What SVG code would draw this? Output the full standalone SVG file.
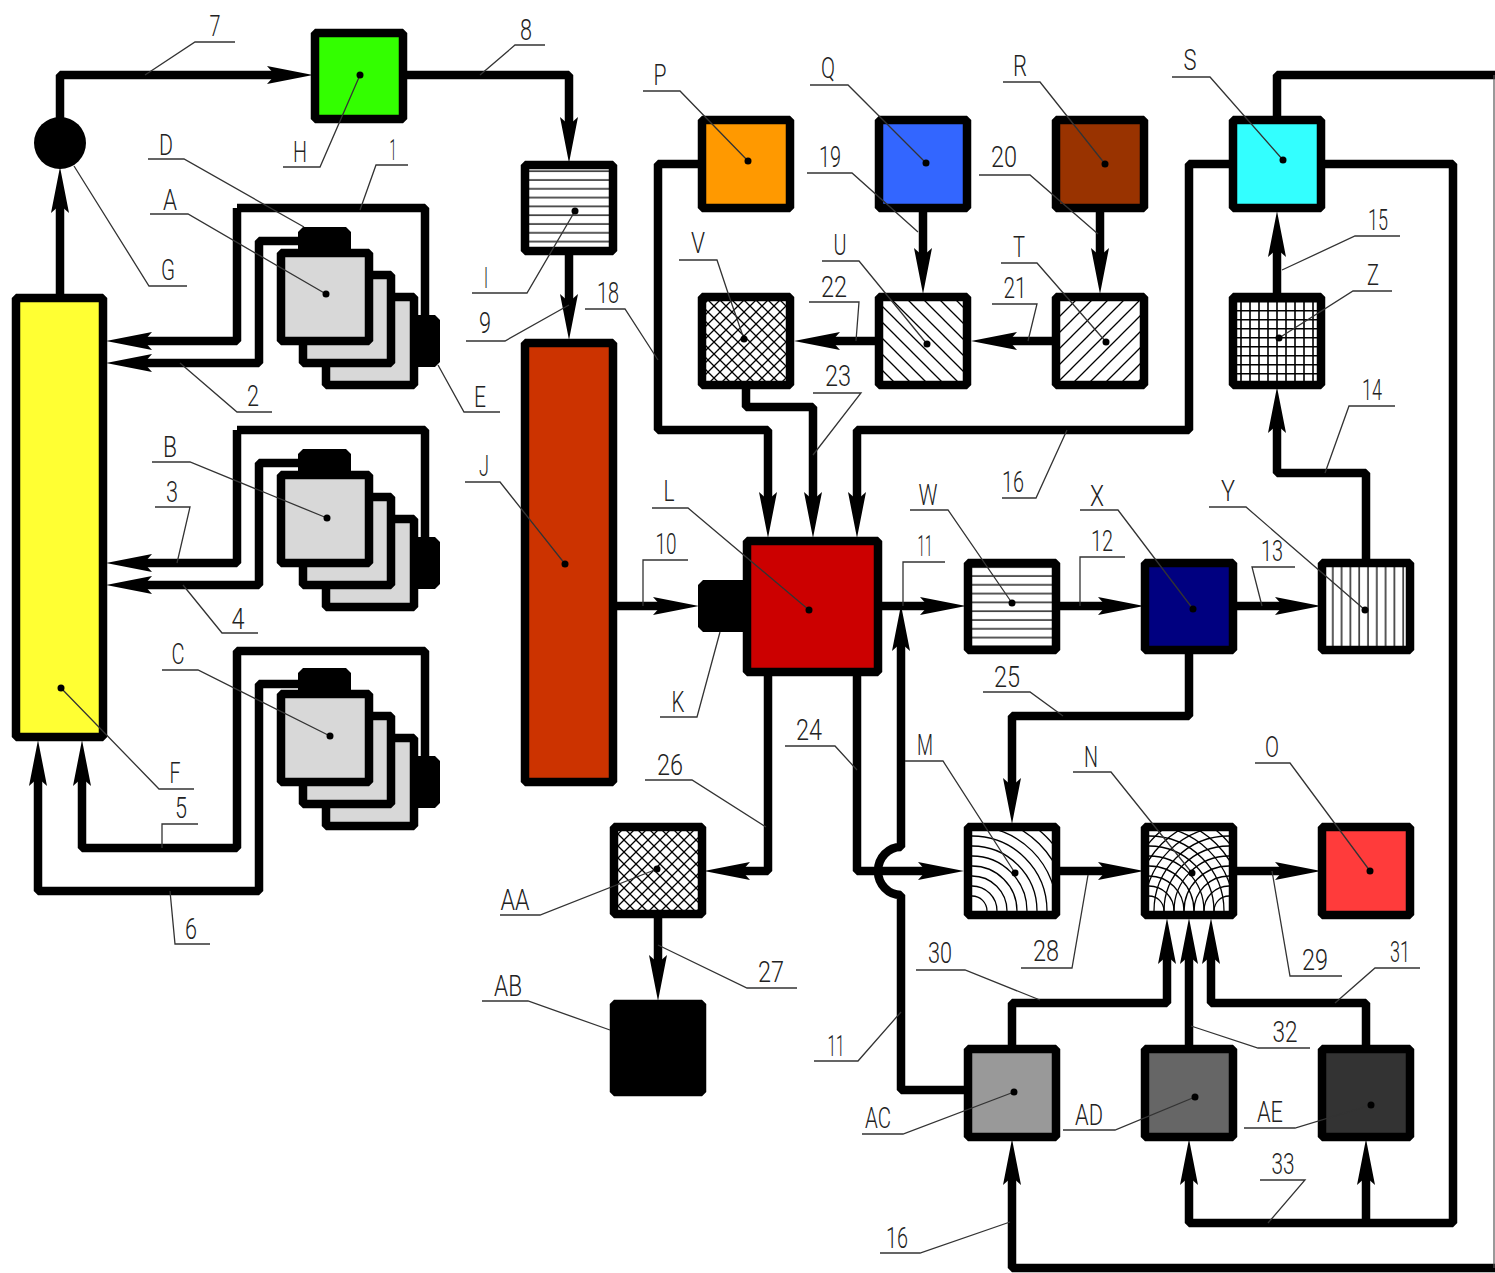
<svg xmlns="http://www.w3.org/2000/svg" width="1495" height="1273" viewBox="0 0 1495 1273">
<style>
.c{fill:none;stroke:#000;stroke-width:8.5;stroke-linejoin:bevel}
.a{marker-end:url(#ah)}
.b{stroke:#000;stroke-width:8.5;stroke-linejoin:bevel}
.l{fill:none;stroke:#333;stroke-width:1.3}
.d{fill:#000}
.h{fill:none;stroke:#000;stroke-width:1.3}
text{font-family:"Roboto","Liberation Sans",sans-serif;font-weight:300;font-size:30px;fill:#222;text-anchor:middle;dominant-baseline:central}
</style>
<defs>
<marker id="ah" markerUnits="userSpaceOnUse" markerWidth="46" markerHeight="18" viewBox="0 0 46 18" refX="15" refY="9" orient="auto"><polygon points="0,0 46,9 0,18 8,9" fill="#000"/></marker>
<pattern id="ph" patternUnits="userSpaceOnUse" width="10" height="8.8"><rect width="10" height="8.8" fill="#fff"/><path d="M0 4H10" stroke="#000" stroke-width="1.3"/></pattern>
<pattern id="pv" patternUnits="userSpaceOnUse" width="8.8" height="10"><rect width="8.8" height="10" fill="#fff"/><path d="M4 0V10" stroke="#000" stroke-width="1.3"/></pattern>
<pattern id="pg" patternUnits="userSpaceOnUse" width="9" height="9"><rect width="9" height="9" fill="#fff"/><path d="M8 0V9M0 4.7H9" stroke="#000" stroke-width="1.6"/></pattern>
<pattern id="pu" patternUnits="userSpaceOnUse" width="16" height="16"><rect width="16" height="16" fill="#fff"/><path d="M-4 4L4 -4M0 16L16 0M12 20L20 12" stroke="#000" stroke-width="1.3"/></pattern>
<pattern id="pd" patternUnits="userSpaceOnUse" width="16" height="16"><rect width="16" height="16" fill="#fff"/><path d="M-4 12L4 20M0 0L16 16M12 -4L20 4" stroke="#000" stroke-width="1.3"/></pattern>
<pattern id="px" patternUnits="userSpaceOnUse" width="12" height="12"><rect width="12" height="12" fill="#fff"/><path d="M0 0L12 12M0 12L12 0" stroke="#000" stroke-width="1.3"/></pattern>
<g id="arcs"><circle r="15"/><circle r="25"/><circle r="35"/><circle r="45"/><circle r="55"/><circle r="65"/><circle r="75"/><circle r="85"/><circle r="95"/><circle r="105"/></g>
<clipPath id="cm"><rect x="972" y="831" width="80" height="80"/></clipPath>
<clipPath id="cn"><rect x="1149" y="831" width="80" height="80"/></clipPath>
<g id="cyl">
<rect x="326" y="297" width="88" height="88" fill="#d8d8d8" class="b"/>
<rect x="303" y="275" width="88" height="88" fill="#d8d8d8" class="b"/>
<rect x="281" y="253" width="88" height="88" fill="#d8d8d8" class="b"/>
<polygon points="303,227 346,227 351,232 351,250 298,250 298,232"/>
<polygon points="415,315 435,315 440,320 440,362 435,367 415,367"/>
</g>
</defs>

<g id="connectors">
<path class="c a" d="M60 120V75H282"/>
<path class="c a" d="M60 294V198"/>
<path class="c a" d="M405 75H569V132"/>
<path class="c a" d="M569 254V309"/>
<path class="c a" d="M237 208V341H137"/>
<path class="c" d="M237 208H425V320"/>
<path class="c a" d="M300 241H259V363H137"/>
<path class="c a" d="M237 430V563H137"/>
<path class="c" d="M237 430H425V542"/>
<path class="c a" d="M300 463H259V585H137"/>
<path class="c a" d="M425 762V651H237V848H82V771"/>
<path class="c a" d="M300 684H259V891H38V771"/>
<path class="c a" d="M616 606H668"/>
<path class="c a" d="M882 606H935"/>
<path class="c a" d="M1059 606H1113"/>
<path class="c a" d="M1236 606H1290"/>
<path class="c a" d="M1366 560V473H1277V418"/>
<path class="c a" d="M1277 293V242"/>
<path class="c" d="M1277 117V75H1495"/>
<path class="c a" d="M1325 164H1453V1223H1189V1170"/>
<path class="c a" d="M1366 1223V1170"/>
<path class="c a" d="M1230 164H1189V430H857V507"/>
<path class="c a" d="M698 164H658V430H768V507"/>
<path class="c a" d="M746 389V407H813V507"/>
<path class="c a" d="M923 212V263"/>
<path class="c a" d="M1100 212V263"/>
<path class="c a" d="M1052 341H1002"/>
<path class="c a" d="M875 341H825"/>
<path class="c a" d="M768 675V871H735"/>
<path class="c a" d="M658 917V970"/>
<path class="c a" d="M857 675V871H933"/>
<path class="c a" d="M965 1090H901V895A23 24 0 0 1 901 847V636"/>
<path class="c a" d="M1189 653V716H1012V793"/>
<path class="c a" d="M1060 871H1113"/>
<path class="c a" d="M1237 871H1290"/>
<path class="c a" d="M1012 1046V1003H1167V949"/>
<path class="c a" d="M1189 1046V949"/>
<path class="c a" d="M1366 1046V1003H1211V949"/>
<path class="c a" d="M1495 1268H1012V1170"/>
<path d="M1494 75V1268" fill="none" stroke="#555" stroke-width="1.2"/>
</g>

<g id="node-F"><rect x="16" y="298" width="87" height="439" fill="#ffff33" class="b"/></g>
<g id="node-G"><circle cx="60" cy="143" r="26"/></g>
<g id="node-H"><rect x="315" y="33" width="88" height="86" fill="#33ff00" class="b"/></g>
<g id="node-I"><rect x="525" y="165" width="88" height="86" fill="url(#ph)" class="b"/></g>
<g id="node-J"><rect x="525" y="343" width="88" height="439" fill="#cc3300" class="b"/></g>
<g id="node-A"><use href="#cyl"/></g>
<g id="node-B"><use href="#cyl" y="222"/></g>
<g id="node-C"><use href="#cyl" y="441"/></g>
<g id="node-K"><polygon points="703,580 745,580 745,632 703,632 698,627 698,585"/></g>
<g id="node-L"><rect x="747" y="541" width="131" height="131" fill="#cc0000" class="b"/></g>
<g id="node-P"><rect x="702" y="120" width="88" height="88" fill="#ff9900" class="b"/></g>
<g id="node-Q"><rect x="879" y="120" width="88" height="88" fill="#3366ff" class="b"/></g>
<g id="node-R"><rect x="1056" y="120" width="88" height="88" fill="#993300" class="b"/></g>
<g id="node-S"><rect x="1233" y="120" width="88" height="88" fill="#33ffff" class="b"/></g>
<g id="node-V"><rect x="702" y="297" width="88" height="88" fill="url(#px)" class="b"/></g>
<g id="node-U"><rect x="879" y="297" width="88" height="88" fill="url(#pd)" class="b"/></g>
<g id="node-T"><rect x="1056" y="297" width="88" height="88" fill="url(#pu)" class="b"/></g>
<g id="node-Z"><rect x="1233" y="297" width="88" height="88" fill="url(#pg)" class="b"/></g>
<g id="node-W"><rect x="968" y="563" width="88" height="87" fill="url(#ph)" class="b"/></g>
<g id="node-X"><rect x="1145" y="563" width="88" height="87" fill="#000080" class="b"/></g>
<g id="node-Y"><rect x="1322" y="563" width="88" height="87" fill="url(#pv)" class="b"/></g>
<g id="node-M"><rect x="968" y="827" width="88" height="88" fill="#fff" class="b"/><g clip-path="url(#cm)"><use href="#arcs" x="972" y="911" class="h"/></g></g>
<g id="node-N"><rect x="1145" y="827" width="88" height="88" fill="#fff" class="b"/><g clip-path="url(#cn)"><use href="#arcs" x="1149" y="911" class="h"/><use href="#arcs" x="1229" y="911" class="h"/></g></g>
<g id="node-O"><rect x="1322" y="827" width="88" height="88" fill="#ff3b3b" class="b"/></g>
<g id="node-AA"><rect x="614" y="827" width="88" height="87" fill="url(#px)" class="b"/></g>
<g id="node-AB"><rect x="614" y="1004" width="88" height="88" fill="#000" class="b"/></g>
<g id="node-AC"><rect x="968" y="1049" width="88" height="88" fill="#999999" class="b"/></g>
<g id="node-AD"><rect x="1145" y="1049" width="88" height="88" fill="#666666" class="b"/></g>
<g id="node-AE"><rect x="1322" y="1049" width="88" height="88" fill="#333333" class="b"/></g>

<g id="leaders" class="l">
<path d="M145 75L195 42H235"/><path d="M480 75L515 45H545"/><path d="M283 167H320L360 75"/>
<path d="M148 159H184L304 227"/><path d="M408 165H376L360 210"/><path d="M150 214H188L326 294"/>
<path d="M187 286H149L74 166"/><path d="M472 293H527L575 211"/><path d="M466 341H505L569 305"/>
<path d="M585 309H625L658 360"/><path d="M643 91H680L748 161"/><path d="M810 85H848L926 163"/>
<path d="M1003 82H1040L1105 164"/><path d="M1172 77H1210L1283 160"/><path d="M807 173H852L918 232"/>
<path d="M979 175H1030L1098 234"/><path d="M679 260H717L728 293L744 339"/><path d="M822 261H859L927 344"/>
<path d="M1001 263H1037L1106 342"/><path d="M809 302H859L856 341"/><path d="M992 304H1037L1028 341"/>
<path d="M813 393H861L813 455"/><path d="M1400 236H1355L1282 270"/><path d="M1392 291H1353L1279 338"/>
<path d="M1395 406H1349L1325 473"/><path d="M1002 498H1036L1067 430"/><path d="M465 482H500L565 564"/>
<path d="M688 560H643V606"/><path d="M652 508H688L809 610"/><path d="M945 562H903V606"/>
<path d="M910 510H948L1012 603"/><path d="M1125 557H1080V606"/><path d="M1080 510H1118L1193 609"/>
<path d="M1295 567H1252L1262 606"/><path d="M1209 507H1246L1365 610"/><path d="M152 462H190L327 518"/>
<path d="M155 507H190L177 563"/><path d="M258 633H222L183 585"/><path d="M272 412H237L180 363"/>
<path d="M500 412H464L438 365"/><path d="M660 717H697L720 632"/><path d="M162 670H198L330 736"/>
<path d="M198 824H162V848"/><path d="M194 789H159L61 688"/><path d="M210 944H175L170 891"/>
<path d="M983 692H1030L1063 716"/><path d="M785 746H835L857 770"/><path d="M645 780H692L766 827"/>
<path d="M905 761H943L1015 873"/><path d="M1073 772H1111L1192 873"/><path d="M1255 763H1290L1370 871"/>
<path d="M500 915H540L657 869"/><path d="M797 988H747L658 945"/><path d="M482 1001H528L610 1030"/>
<path d="M1021 968H1072L1088 875"/><path d="M1342 976H1290L1272 871"/><path d="M916 970H965L1040 1000"/>
<path d="M1420 968H1375L1335 1003"/><path d="M1310 1048H1258L1191 1026"/><path d="M814 1061H858L901 1012"/>
<path d="M1260 1180H1305L1268 1223"/><path d="M880 1253H920L1010 1222"/><path d="M862 1134H903L1014 1092"/>
<path d="M1063 1130H1115L1195 1097"/><path d="M1244 1128H1295L1371 1105"/>
</g>
<g id="dots" class="d">
<circle cx="360" cy="75" r="3.5"/><circle cx="326" cy="294" r="3.5"/><circle cx="575" cy="211" r="3.5"/>
<circle cx="748" cy="161" r="3.5"/><circle cx="926" cy="163" r="3.5"/><circle cx="1105" cy="164" r="3.5"/><circle cx="1283" cy="160" r="3.5"/>
<circle cx="744" cy="339" r="3.5"/><circle cx="927" cy="344" r="3.5"/><circle cx="1106" cy="342" r="3.5"/><circle cx="1279" cy="338" r="3.5"/>
<circle cx="565" cy="564" r="3.5"/><circle cx="809" cy="610" r="3.5"/><circle cx="1012" cy="603" r="3.5"/><circle cx="1193" cy="609" r="3.5"/><circle cx="1365" cy="610" r="3.5"/>
<circle cx="327" cy="518" r="3.5"/><circle cx="330" cy="736" r="3.5"/><circle cx="61" cy="688" r="3.5"/>
<circle cx="1015" cy="873" r="3.5"/><circle cx="1192" cy="873" r="3.5"/><circle cx="1370" cy="871" r="3.5"/><circle cx="657" cy="869" r="3.5"/>
<circle cx="1014" cy="1092" r="3.5"/><circle cx="1195" cy="1097" r="3.5"/><circle cx="1371" cy="1105" r="3.5"/>
</g>

<g id="labels">
<text x="215" y="25" textLength="11" lengthAdjust="spacingAndGlyphs">7</text>
<text x="526" y="29" textLength="12" lengthAdjust="spacingAndGlyphs">8</text>
<text x="300" y="151" textLength="14" lengthAdjust="spacingAndGlyphs">H</text>
<text x="166" y="144" textLength="14" lengthAdjust="spacingAndGlyphs">D</text>
<text x="393" y="149" textLength="7" lengthAdjust="spacingAndGlyphs">1</text>
<text x="170" y="199" textLength="14" lengthAdjust="spacingAndGlyphs">A</text>
<text x="168" y="269" textLength="14" lengthAdjust="spacingAndGlyphs">G</text>
<text x="486" y="277" textLength="4" lengthAdjust="spacingAndGlyphs">I</text>
<text x="485" y="322" textLength="12" lengthAdjust="spacingAndGlyphs">9</text>
<text x="608" y="292" textLength="22" lengthAdjust="spacingAndGlyphs">18</text>
<text x="660" y="74" textLength="13" lengthAdjust="spacingAndGlyphs">P</text>
<text x="828" y="67" textLength="14" lengthAdjust="spacingAndGlyphs">Q</text>
<text x="1020" y="65" textLength="14" lengthAdjust="spacingAndGlyphs">R</text>
<text x="1190" y="59" textLength="13" lengthAdjust="spacingAndGlyphs">S</text>
<text x="830" y="156" textLength="22" lengthAdjust="spacingAndGlyphs">19</text>
<text x="1004" y="156" textLength="26" lengthAdjust="spacingAndGlyphs">20</text>
<text x="698" y="242" textLength="14" lengthAdjust="spacingAndGlyphs">V</text>
<text x="840" y="244" textLength="13" lengthAdjust="spacingAndGlyphs">U</text>
<text x="1019" y="246" textLength="12" lengthAdjust="spacingAndGlyphs">T</text>
<text x="834" y="286" textLength="26" lengthAdjust="spacingAndGlyphs">22</text>
<text x="1015" y="287" textLength="23" lengthAdjust="spacingAndGlyphs">21</text>
<text x="838" y="375" textLength="26" lengthAdjust="spacingAndGlyphs">23</text>
<text x="1378" y="219" textLength="20" lengthAdjust="spacingAndGlyphs">15</text>
<text x="1373" y="274" textLength="12" lengthAdjust="spacingAndGlyphs">Z</text>
<text x="1372" y="389" textLength="20" lengthAdjust="spacingAndGlyphs">14</text>
<text x="1013" y="481" textLength="22" lengthAdjust="spacingAndGlyphs">16</text>
<text x="484" y="465" textLength="10" lengthAdjust="spacingAndGlyphs">J</text>
<text x="666" y="543" textLength="21" lengthAdjust="spacingAndGlyphs">10</text>
<text x="669" y="490" textLength="11" lengthAdjust="spacingAndGlyphs">L</text>
<text x="925" y="545" textLength="15" lengthAdjust="spacingAndGlyphs">11</text>
<text x="928" y="494" textLength="19" lengthAdjust="spacingAndGlyphs">W</text>
<text x="1102" y="540" textLength="22" lengthAdjust="spacingAndGlyphs">12</text>
<text x="1097" y="495" textLength="14" lengthAdjust="spacingAndGlyphs">X</text>
<text x="1272" y="550" textLength="22" lengthAdjust="spacingAndGlyphs">13</text>
<text x="1228" y="490" textLength="14" lengthAdjust="spacingAndGlyphs">Y</text>
<text x="170" y="446" textLength="14" lengthAdjust="spacingAndGlyphs">B</text>
<text x="172" y="491" textLength="12" lengthAdjust="spacingAndGlyphs">3</text>
<text x="238" y="618" textLength="13" lengthAdjust="spacingAndGlyphs">4</text>
<text x="253" y="395" textLength="12" lengthAdjust="spacingAndGlyphs">2</text>
<text x="480" y="396" textLength="12" lengthAdjust="spacingAndGlyphs">E</text>
<text x="678" y="701" textLength="13" lengthAdjust="spacingAndGlyphs">K</text>
<text x="178" y="653" textLength="13" lengthAdjust="spacingAndGlyphs">C</text>
<text x="181" y="807" textLength="12" lengthAdjust="spacingAndGlyphs">5</text>
<text x="175" y="772" textLength="11" lengthAdjust="spacingAndGlyphs">F</text>
<text x="191" y="928" textLength="12" lengthAdjust="spacingAndGlyphs">6</text>
<text x="1007" y="676" textLength="26" lengthAdjust="spacingAndGlyphs">25</text>
<text x="809" y="729" textLength="26" lengthAdjust="spacingAndGlyphs">24</text>
<text x="670" y="764" textLength="26" lengthAdjust="spacingAndGlyphs">26</text>
<text x="925" y="744" textLength="16" lengthAdjust="spacingAndGlyphs">M</text>
<text x="1091" y="756" textLength="14" lengthAdjust="spacingAndGlyphs">N</text>
<text x="1272" y="746" textLength="14" lengthAdjust="spacingAndGlyphs">O</text>
<text x="515" y="899" textLength="29" lengthAdjust="spacingAndGlyphs">AA</text>
<text x="771" y="971" textLength="26" lengthAdjust="spacingAndGlyphs">27</text>
<text x="508" y="985" textLength="28" lengthAdjust="spacingAndGlyphs">AB</text>
<text x="1046" y="950" textLength="26" lengthAdjust="spacingAndGlyphs">28</text>
<text x="1315" y="959" textLength="26" lengthAdjust="spacingAndGlyphs">29</text>
<text x="940" y="952" textLength="24" lengthAdjust="spacingAndGlyphs">30</text>
<text x="1400" y="951" textLength="20" lengthAdjust="spacingAndGlyphs">31</text>
<text x="1285" y="1031" textLength="25" lengthAdjust="spacingAndGlyphs">32</text>
<text x="836" y="1045" textLength="17" lengthAdjust="spacingAndGlyphs">11</text>
<text x="1283" y="1163" textLength="23" lengthAdjust="spacingAndGlyphs">33</text>
<text x="897" y="1237" textLength="22" lengthAdjust="spacingAndGlyphs">16</text>
<text x="878" y="1117" textLength="26" lengthAdjust="spacingAndGlyphs">AC</text>
<text x="1089" y="1114" textLength="28" lengthAdjust="spacingAndGlyphs">AD</text>
<text x="1270" y="1111" textLength="26" lengthAdjust="spacingAndGlyphs">AE</text>
</g>
</svg>
